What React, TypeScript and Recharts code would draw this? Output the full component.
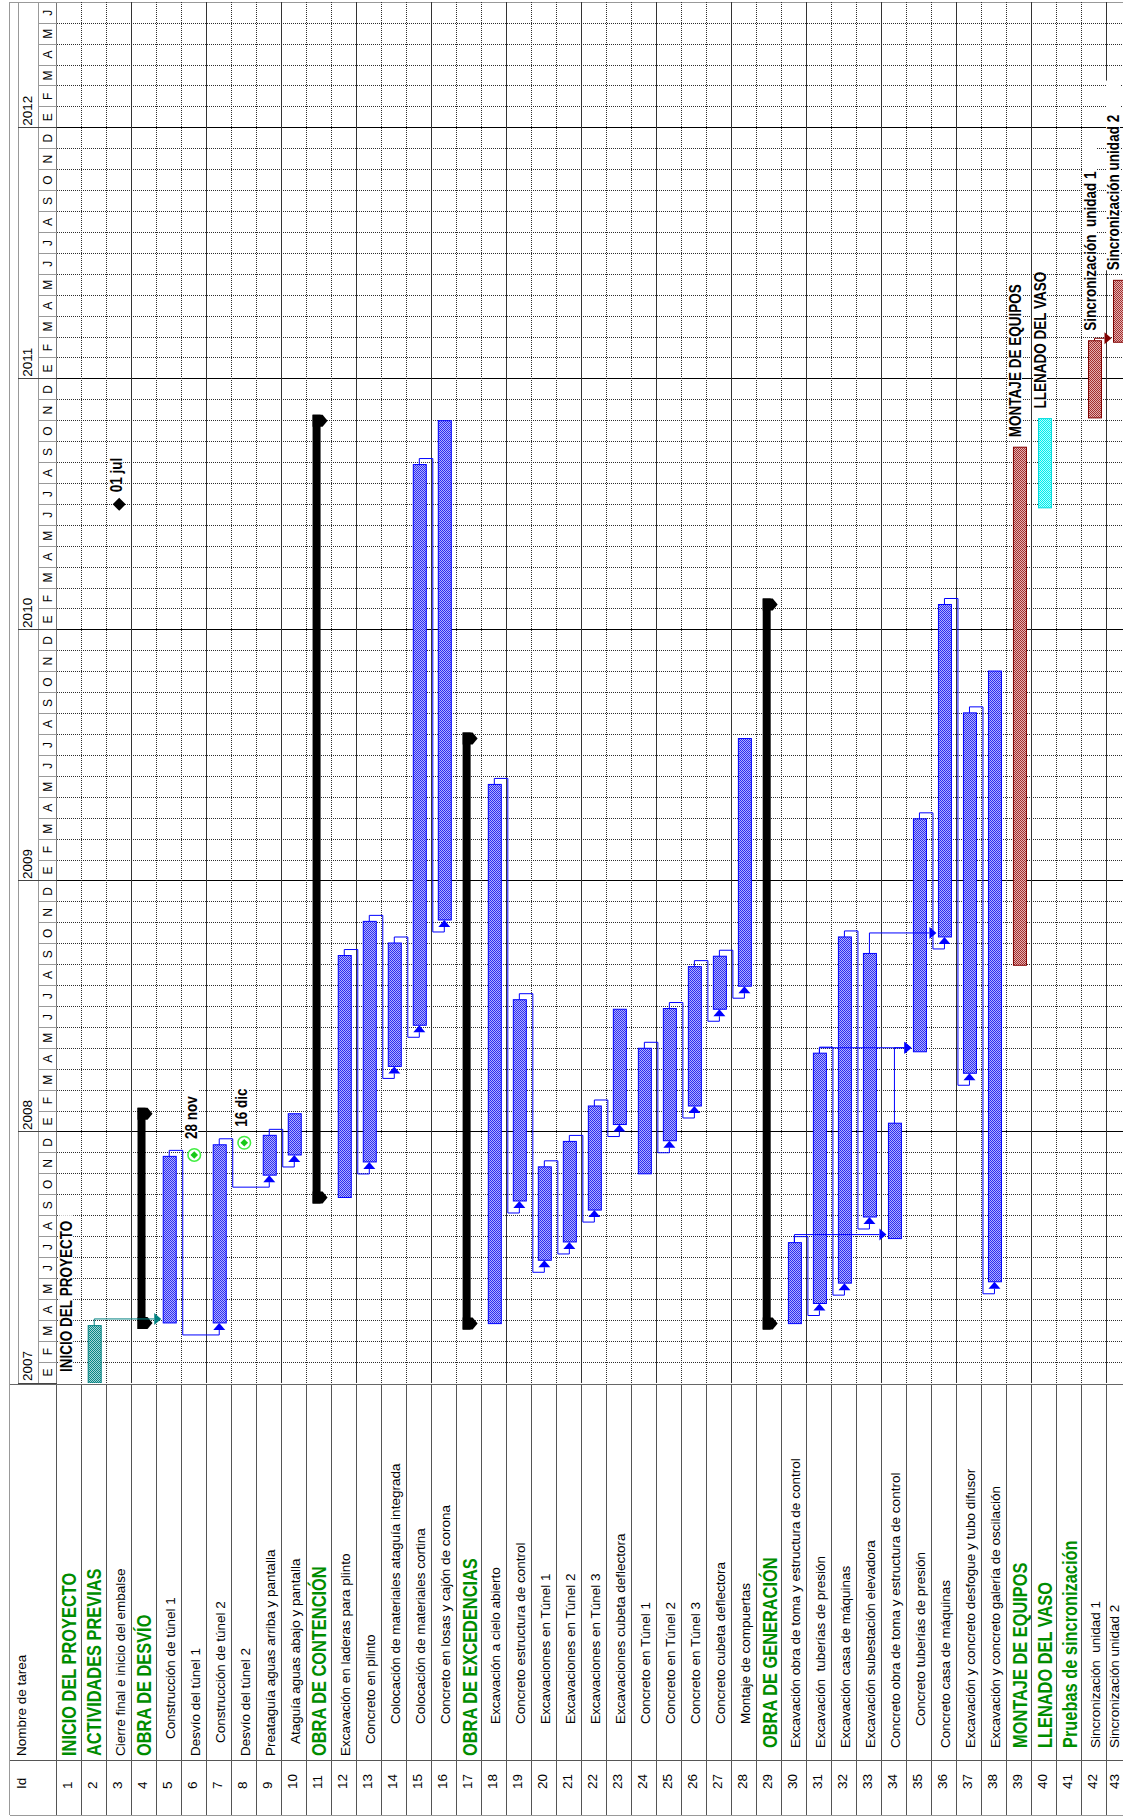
import React from 'react';
import { ComposedChart, Bar, Scatter, XAxis, YAxis, ReferenceLine } from 'recharts';

// ---------------- DATA ----------------
const MONTH_LETTERS = ['E', 'F', 'M', 'A', 'M', 'J', 'J', 'A', 'S', 'O', 'N', 'D'];
const YEARS = ['2007', '2008', '2009', '2010', '2011', '2012'];
const TIMELINE_MONTHS = 66; // Jan 2007 .. Jun 2012

const TASK_NAMES = [
  'INICIO DEL PROYECTO',
  'ACTIVIDADES PREVIAS',
  'Cierre final e inicio del embalse',
  'OBRA DE DESVÍO',
  'Construcción de túnel 1',
  'Desvío del túnel 1',
  'Construcción de túnel 2',
  'Desvío del túnel 2',
  'Preataguía aguas arriba y pantalla',
  'Ataguía aguas abajo y pantalla',
  'OBRA DE CONTENCIÓN',
  'Excavación en laderas para plinto',
  'Concreto en plinto',
  'Colocación de materiales ataguía integrada',
  'Colocación de materiales cortina',
  'Concreto en losas y cajón de corona',
  'OBRA DE EXCEDENCIAS',
  'Excavación a cielo abierto',
  'Concreto estructura de control',
  'Excavaciones en Túnel 1',
  'Excavaciones en Túnel 2',
  'Excavaciones en Túnel 3',
  'Excavaciones cubeta deflectora',
  'Concreto en Túnel 1',
  'Concreto en Túnel 2',
  'Concreto en Túnel 3',
  'Concreto cubeta deflectora',
  'Montaje de compuertas',
  'OBRA DE GENERACIÓN',
  'Excavación obra de toma y estructura de control',
  'Excavación  tuberías de presión',
  'Excavación casa de máquinas',
  'Excavación subestación elevadora',
  'Concreto obra de toma y estructura de control',
  'Concreto tuberías de presión',
  'Concreto casa de máquinas',
  'Excavación y concreto desfogue y tubo difusor',
  'Excavación y concreto galería de oscilación',
  'MONTAJE DE EQUIPOS',
  'LLENADO DEL VASO',
  'Pruebas de sincronización',
  'Sincronización  unidad 1',
  'Sincronización unidad 2',
];

const GROUP_ROWS = [1, 2, 4, 11, 17, 29, 39, 40, 41];

// [row, start, finish, phase]
const WORK_BARS: [number, string, string, string][] = [
  [2, '2007-01-01', '2007-03-24', 'previas'],
  [5, '2007-03-28', '2007-11-26', 'obra'],
  [7, '2007-03-28', '2007-12-13', 'obra'],
  [9, '2007-10-30', '2007-12-27', 'obra'],
  [10, '2007-11-28', '2008-01-28', 'obra'],
  [12, '2007-09-27', '2008-09-14', 'obra'],
  [13, '2007-11-18', '2008-11-03', 'obra'],
  [14, '2008-04-05', '2008-10-02', 'obra'],
  [15, '2008-06-04', '2010-08-29', 'obra'],
  [16, '2008-11-05', '2010-11-01', 'obra'],
  [18, '2007-03-27', '2009-05-20', 'obra'],
  [19, '2007-09-22', '2008-07-11', 'obra'],
  [20, '2007-06-27', '2007-11-11', 'obra'],
  [21, '2007-07-24', '2007-12-18', 'obra'],
  [22, '2007-09-09', '2008-02-08', 'obra'],
  [23, '2008-01-12', '2008-06-27', 'obra'],
  [24, '2007-11-01', '2008-05-01', 'obra'],
  [25, '2007-12-19', '2008-06-28', 'obra'],
  [26, '2008-02-08', '2008-08-29', 'obra'],
  [27, '2008-06-27', '2008-09-13', 'obra'],
  [28, '2008-07-31', '2009-07-26', 'obra'],
  [30, '2007-03-27', '2007-07-23', 'obra'],
  [31, '2007-04-25', '2008-04-24', 'obra'],
  [32, '2007-05-25', '2008-10-11', 'obra'],
  [33, '2007-08-30', '2008-09-17', 'obra'],
  [34, '2007-07-29', '2008-01-14', 'obra'],
  [35, '2008-04-26', '2009-03-31', 'obra'],
  [36, '2008-10-11', '2010-02-07', 'obra'],
  [37, '2008-03-26', '2009-09-02', 'obra'],
  [38, '2007-05-27', '2009-11-02', 'obra'],
  [39, '2008-08-31', '2010-09-23', 'equipos'],
  [40, '2010-06-26', '2010-11-04', 'llenado'],
  [42, '2010-11-05', '2011-02-24', 'equipos'],
  [43, '2011-02-22', '2011-05-23', 'equipos'],
];

// [row, start, finish]
const SUMMARY_BARS: [number, string, string][] = [
  [4, '2007-03-28', '2008-01-28'],
  [11, '2007-09-27', '2010-11-01'],
  [17, '2007-03-27', '2009-07-26'],
  [29, '2007-03-27', '2010-02-07'],
];

// [row, date, label, type]
const MILESTONES: [number, string, string, string][] = [
  [1, '2007-01-01', 'INICIO DEL PROYECTO', 'inicio'],
  [3, '2010-07-01', '01 jul', 'hito'],
  [6, '2007-11-28', '28 nov', 'limite'],
  [8, '2007-12-16', '16 dic', 'limite'],
];

const BAR_LABELS: [number, string][] = [
  [39, 'MONTAJE DE EQUIPOS'],
  [40, 'LLENADO DEL VASO'],
  [42, 'Sincronización  unidad 1'],
  [43, 'Sincronización unidad 2'],
];

// predecessor -> successor (arrow enters successor start from below)
const LINKS_FS: [number, number][] = [
  [5, 7], [7, 9], [9, 10], [12, 13], [13, 14], [14, 15], [15, 16],
  [18, 19], [19, 20], [20, 21], [21, 22], [22, 23], [24, 25], [25, 26],
  [26, 27], [27, 28], [30, 31], [31, 32], [32, 33], [35, 36], [36, 37], [37, 38],
];
// predecessor -> successor (arrow enters successor start from the side)
const LINKS_SIDE: [number, number][] = [
  [2, 5], [30, 34], [31, 35], [34, 35], [33, 36], [42, 43],
];

// ---------------- LAYOUT / STYLE ----------------
const VIEW_W = 1123;
const W = 1132;
const H = 1818;
const PLOT_L = 56.7;
const PLOT_T = 2.3;
const PLOT_B = 1383;
const AXIS_H = H - PLOT_B;
const N_ROWS = TASK_NAMES.length;
const PXM = (PLOT_B - PLOT_T) / TIMELINE_MONTHS;
const PXR = (W - PLOT_L) / N_ROWS;
const mpx = (px: number) => px / PXM;
const rpx = (px: number) => px / PXR;

const TABLE_TOP = 1384.5;
const ID_SEP = 1760;
const TABLE_BOT = 1815;
const ID_Y = 1789;
const NAME_Y = 1756;

const SANS = "'Liberation Sans', Arial, sans-serif";
const NARROW_SCALE = 0.82;
const GREEN = '#008c00';
const GRID_DOT = '#2e2e2e';

const NAME_INDENT: Record<number, number> = {
  5: 17, 7: 13, 10: 12, 13: 12, 14: 32, 15: 32, 16: 32,
  18: 32, 19: 32, 20: 32, 21: 32, 22: 32, 23: 32, 24: 32, 25: 32, 26: 32, 27: 32, 28: 32,
  29: 8, 30: 8, 31: 8, 32: 8, 33: 8, 34: 8, 35: 30, 36: 8, 37: 8, 38: 8,
  39: 8, 40: 8, 41: 8, 42: 8, 43: 8,
};

const PHASE_STYLE: Record<string, { pattern: string; stroke: string; link: string }> = {
  previas: { pattern: 'pat-previas', stroke: '#008080', link: '#008080' },
  obra: { pattern: 'pat-obra', stroke: '#0000ff', link: '#0000ff' },
  equipos: { pattern: 'pat-equipos', stroke: '#800000', link: '#800000' },
  llenado: { pattern: 'pat-llenado', stroke: '#00dcdc', link: '#0000ff' },
};

// keep a rotated text's baseline inside the visible page width
const fitX = (x: number) => Math.min(x, VIEW_W - 4);

// ---------------- DERIVED ----------------
const toMonths = (d: string) => {
  const [yy, mm, dd] = d.split('-').map(Number);
  const dim = new Date(yy, mm, 0).getDate();
  return (yy - 2007) * 12 + (mm - 1) + (dd - 1) / dim;
};

const rowData = TASK_NAMES.map((name, i) => {
  const row = i + 1;
  const w = WORK_BARS.find((b) => b[0] === row);
  const s = SUMMARY_BARS.find((b) => b[0] === row);
  const lab = BAR_LABELS.find((b) => b[0] === row);
  if (w) return { row, name, range: [toMonths(w[1]), toMonths(w[2])], kind: 'task', phase: w[3], label: lab ? lab[1] : null };
  if (s) return { row, name, range: [toMonths(s[1]), toMonths(s[2])], kind: 'summary', phase: 'resumen', label: null };
  return { row, name, range: null, kind: 'none', phase: null, label: null };
});

const span = (row: number) => rowData[row - 1].range as number[];
const linkColor = (row: number) => {
  const ph = rowData[row - 1].phase as string;
  return PHASE_STYLE[ph] ? PHASE_STYLE[ph].link : '#0000ff';
};

const fsRoute = (p: number, s: number) => {
  const pe = span(p)[1];
  const ss = span(s)[0];
  const xb = p + 0.5 + rpx(1);
  return [
    { x: p, y: pe },
    { x: p, y: pe + mpx(6) },
    { x: xb, y: pe + mpx(6) },
    { x: xb, y: ss - mpx(12) },
    { x: s, y: ss - mpx(12) },
    { x: s, y: ss - mpx(7), head: 'up' },
  ];
};

const sideRoute = (p: number, s: number) => {
  const pe = span(p)[1];
  const ss = span(s)[0];
  const yl = ss + mpx(4);
  return [
    { x: p, y: pe },
    { x: p, y: yl },
    { x: s - rpx(15), y: yl, head: 'right' },
  ];
};

const links = [
  ...LINKS_FS.map(([p, s]) => ({ key: `fs-${p}-${s}`, color: linkColor(p), points: fsRoute(p, s) })),
  ...LINKS_SIDE.map(([p, s]) => ({ key: `sd-${p}-${s}`, color: linkColor(p), points: sideRoute(p, s) })),
];

const milestoneData = MILESTONES.map(([row, date, label, type]) => ({ x: row, y: toMonths(date), label, type }));

const TIME_TICKS = Array.from({ length: TIMELINE_MONTHS * 2 + 1 }, (_, i) => i / 2);
const TABLE_TICKS = Array.from({ length: N_ROWS * 2 + 1 }, (_, i) => 0.5 + i / 2);

// ---------------- RENDER HELPERS ----------------
// text reading bottom-to-top, starting at (x, y); squeeze < 1 condenses it along its length
const RotText = ({ x, y, size, weight, fill, anchor, squeeze, children }: any) => (
  <text
    x={0}
    y={0}
    transform={`translate(${x} ${y}) rotate(-90) scale(${squeeze || 1} 1)`}
    fontSize={size}
    fontFamily={SANS}
    fontWeight={weight || 'normal'}
    fill={fill || '#000'}
    textAnchor={anchor || 'start'}
    style={{ whiteSpace: 'pre' }}
  >
    {children}
  </text>
);

const ChartLabel = ({ x, y, text }: any) => {
  const len = text.length * 16.5 * 0.5;
  const bx = fitX(x);
  return (
    <g>
      <rect x={bx - 13} y={y - len} width={14} height={len} fill="#fff" />
      <RotText x={bx} y={y} size={16.5} weight="bold" squeeze={NARROW_SCALE}>{text}</RotText>
    </g>
  );
};

const TimeTick = (props: any) => {
  const { y, payload } = props;
  const v = payload.value;
  if (Number.isInteger(v)) {
    if (v % 12 === 0) {
      return (
        <g>
          <line x1={18.3} x2={PLOT_L} y1={y} y2={y} stroke="#444" shapeRendering="crispEdges" />
          {v < TIMELINE_MONTHS && (
            <RotText x={32.3} y={y - 2} size={13.5}>{YEARS[v / 12]}</RotText>
          )}
        </g>
      );
    }
    return <line x1={38.3} x2={PLOT_L} y1={y} y2={y} stroke="#999" shapeRendering="crispEdges" />;
  }
  const mi = Math.floor(v) % 12;
  return (
    <RotText x={51.8} y={y} size={12} anchor="middle">{MONTH_LETTERS[mi]}</RotText>
  );
};

const TableTick = (props: any) => {
  const { x, payload } = props;
  const v = payload.value;
  if (!Number.isInteger(v)) {
    return (
      <g>
        <line x1={x} x2={x} y1={TABLE_TOP} y2={TABLE_BOT} stroke="#555" shapeRendering="crispEdges" />
        {v === 0.5 && (
          <g>
            <RotText x={25.8} y={ID_Y} size={13.5}>Id</RotText>
            <RotText x={25.8} y={NAME_Y} size={13.5}>Nombre de tarea</RotText>
          </g>
        )}
      </g>
    );
  }
  const row = v;
  const name = TASK_NAMES[row - 1];
  const group = GROUP_ROWS.includes(row);
  const indent = NAME_INDENT[row] || 0;
  return (
    <g>
      <RotText x={fitX(x + 3)} y={ID_Y} size={13.5}>{String(row)}</RotText>
      {group ? (
        <RotText x={fitX(x + 7.2)} y={NAME_Y - indent} size={20} weight="bold" fill={GREEN} squeeze={NARROW_SCALE}>{name}</RotText>
      ) : (
        <RotText x={fitX(x + 6)} y={NAME_Y - indent} size={13.5}>{name}</RotText>
      )}
    </g>
  );
};

const BarShape = (props: any) => {
  const { x, y, width, height, payload } = props;
  if (!payload || payload.kind === 'none' || ![x, y, width, height].every((n) => Number.isFinite(n))) return <g />;
  const top = Math.min(y, y + height);
  const bot = Math.max(y, y + height);
  const cx = x + width / 2;
  if (payload.kind === 'summary') {
    const xl = cx - 7.2;
    const cap = (y0: number) =>
      `${xl},${y0 - 6} ${xl + 10},${y0 - 6} ${xl + 15},${y0} ${xl + 10},${y0 + 6} ${xl},${y0 + 6}`;
    return (
      <g>
        <rect x={xl} y={top - 6} width={8} height={bot - top + 12} fill="#000" />
        <polygon points={cap(top)} fill="#000" />
        <polygon points={cap(bot)} fill="#000" />
      </g>
    );
  }
  const st = PHASE_STYLE[payload.phase] || PHASE_STYLE.obra;
  return (
    <g>
      <rect x={x + 0.5} y={top} width={width - 1} height={bot - top} fill={`url(#${st.pattern})`} stroke={st.stroke} strokeWidth={1} />
      {payload.label && <ChartLabel x={cx + 1} y={top - 10} text={payload.label} />}
    </g>
  );
};

const makeArrow = (color: string) => (props: any) => {
  const { cx, cy, payload } = props;
  if (!payload || !payload.head || !Number.isFinite(cx) || !Number.isFinite(cy)) return <g />;
  if (payload.head === 'up') {
    return <polygon points={`${cx - 6},${cy} ${cx + 6},${cy} ${cx},${cy - 7}`} fill={color} />;
  }
  return <polygon points={`${cx},${cy - 6} ${cx},${cy + 6} ${cx + 7},${cy}`} fill={color} />;
};

const MilestoneShape = (props: any) => {
  const { cx, cy, payload } = props;
  if (!payload || !Number.isFinite(cx) || !Number.isFinite(cy)) return <g />;
  const t = payload.type;
  let symbol = null;
  let gap = 11;
  if (t === 'hito') {
    symbol = <polygon points={`${cx},${cy - 6.5} ${cx + 6.5},${cy} ${cx},${cy + 6.5} ${cx - 6.5},${cy}`} fill="#000" />;
    gap = 12;
  } else if (t === 'limite') {
    symbol = (
      <g>
        <circle cx={cx} cy={cy} r={6.3} fill="#fff" stroke="#44ee44" strokeWidth={1.6} />
        <polygon points={`${cx},${cy - 3.8} ${cx + 3.8},${cy} ${cx},${cy + 3.8} ${cx - 3.8},${cy}`} fill="#18c818" />
      </g>
    );
    gap = 16;
  }
  return (
    <g>
      {symbol}
      <ChartLabel x={cx + 3} y={cy - gap} text={payload.label} />
    </g>
  );
};

const Patterns = () => (
  <svg width={0} height={0} style={{ position: 'absolute' }}>
    <defs>
      <pattern id="pat-obra" width={2} height={2} patternUnits="userSpaceOnUse">
        <rect width={2} height={2} fill="#b0b0ff" />
        <rect width={1} height={1} fill="#2e2ef0" />
        <rect x={1} y={1} width={1} height={1} fill="#2e2ef0" />
      </pattern>
      <pattern id="pat-previas" width={2} height={2} patternUnits="userSpaceOnUse">
        <rect width={2} height={2} fill="#a6d8d8" />
        <rect width={1} height={1} fill="#0a8484" />
        <rect x={1} y={1} width={1} height={1} fill="#0a8484" />
      </pattern>
      <pattern id="pat-equipos" width={2} height={2} patternUnits="userSpaceOnUse">
        <rect width={2} height={2} fill="#e6b0b0" />
        <rect width={1} height={1} fill="#a03030" />
        <rect x={1} y={1} width={1} height={1} fill="#a03030" />
      </pattern>
      <pattern id="pat-llenado" width={2} height={2} patternUnits="userSpaceOnUse">
        <rect width={2} height={2} fill="#b0ffff" />
        <rect width={1} height={1} fill="#00ecec" />
        <rect x={1} y={1} width={1} height={1} fill="#00ecec" />
      </pattern>
    </defs>
  </svg>
);

const Frame = () => (
  <svg width={W} height={H} style={{ position: 'absolute', left: 0, top: 0 }}>
    <line x1={9.5} x2={9.5} y1={PLOT_T} y2={TABLE_BOT} stroke="#999" shapeRendering="crispEdges" />
    <line x1={9.5} x2={W} y1={PLOT_T} y2={PLOT_T} stroke="#999" shapeRendering="crispEdges" />
    <line x1={18.3} x2={18.3} y1={PLOT_T} y2={PLOT_B} stroke="#999" shapeRendering="crispEdges" />
    <line x1={38.3} x2={38.3} y1={PLOT_T} y2={PLOT_B} stroke="#999" shapeRendering="crispEdges" />
    <line x1={PLOT_L} x2={PLOT_L} y1={PLOT_T} y2={TABLE_BOT} stroke="#777" shapeRendering="crispEdges" />
    <line x1={9.5} x2={W} y1={TABLE_TOP} y2={TABLE_TOP} stroke="#666" shapeRendering="crispEdges" />
    <line x1={9.5} x2={W} y1={ID_SEP} y2={ID_SEP} stroke="#555" shapeRendering="crispEdges" />
    <line x1={9.5} x2={W} y1={TABLE_BOT} y2={TABLE_BOT} stroke="#999" shapeRendering="crispEdges" />
  </svg>
);

const monthLines = Array.from({ length: TIMELINE_MONTHS - 1 }, (_, i) => i + 1);
const rowLines = Array.from({ length: N_ROWS - 1 }, (_, i) => i + 1.5);

export default function App() {
  return (
    <div style={{ position: 'absolute', left: 0, top: 0, width: VIEW_W, height: H, overflow: 'hidden', background: '#fff' }}>
      <Patterns />
      <Frame />
      {/* background: timescale, table and grid */}
      <div style={{ position: 'absolute', left: 0, top: 0 }}>
        <ComposedChart width={W} height={H} margin={{ top: PLOT_T, right: 0, bottom: 0, left: 0 }} data={[]}>
          <XAxis
            xAxisId="n"
            type="number"
            dataKey="x"
            domain={[0.5, N_ROWS + 0.5]}
            allowDataOverflow
            ticks={TABLE_TICKS}
            interval={0}
            tick={TableTick}
            tickLine={false}
            axisLine={false}
            height={AXIS_H}
          />
          <YAxis
            type="number"
            dataKey="y"
            domain={[0, TIMELINE_MONTHS]}
            allowDataOverflow
            ticks={TIME_TICKS}
            interval={0}
            tick={TimeTick}
            tickLine={false}
            axisLine={false}
            width={PLOT_L}
          />
          {monthLines.map((t) => (
            <ReferenceLine
              key={`m${t}`}
              xAxisId="n"
              y={t}
              stroke={t % 12 === 0 ? '#000' : GRID_DOT}
              strokeDasharray={t % 12 === 0 ? undefined : '1 1'}
              shapeRendering="crispEdges"
            />
          ))}
          {rowLines.map((x) => (
            <ReferenceLine
              key={`r${x}`}
              xAxisId="n"
              x={x}
              stroke={(x - 0.5) % 3 === 0 ? '#333' : GRID_DOT}
              strokeDasharray={(x - 0.5) % 3 === 0 ? undefined : '1 1'}
              shapeRendering="crispEdges"
            />
          ))}
          <Scatter xAxisId="n" data={[{ x: 1, y: 0 }]} shape={() => <g />} isAnimationActive={false} />
        </ComposedChart>
      </div>
      {/* foreground: bars, links, milestones */}
      <div style={{ position: 'absolute', left: 0, top: 0 }}>
        <ComposedChart width={W} height={H} margin={{ top: PLOT_T, right: 0, bottom: AXIS_H, left: PLOT_L }} data={rowData}>
          <XAxis xAxisId="cat" dataKey="row" type="category" hide />
          <XAxis xAxisId="n" dataKey="x" type="number" domain={[0.5, N_ROWS + 0.5]} allowDataOverflow hide />
          <YAxis dataKey="y" type="number" domain={[0, TIMELINE_MONTHS]} allowDataOverflow hide />
          <Bar xAxisId="cat" dataKey="range" barSize={14} shape={BarShape} isAnimationActive={false} />
          {links.map((l) => (
            <Scatter
              key={l.key}
              xAxisId="n"
              data={l.points}
              fill={l.color}
              line={{ stroke: l.color, strokeWidth: 1 }}
              lineType="joint"
              shape={makeArrow(l.color)}
              isAnimationActive={false}
            />
          ))}
          <Scatter xAxisId="n" data={milestoneData} shape={MilestoneShape} isAnimationActive={false} />
        </ComposedChart>
      </div>
    </div>
  );
}
